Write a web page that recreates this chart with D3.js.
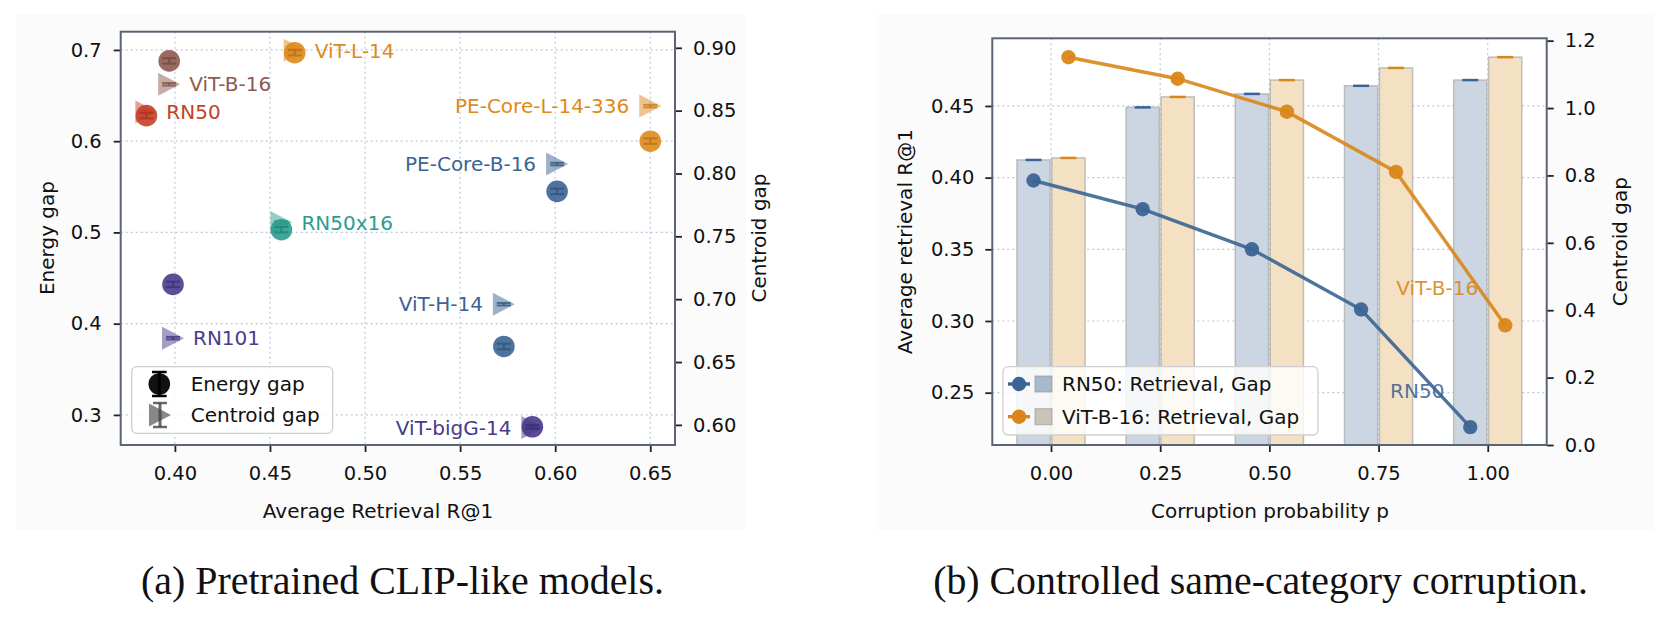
<!DOCTYPE html>
<html><head><meta charset="utf-8">
<script src="https://cdn.jsdelivr.net/npm/d3@7"></script>
<style>
html,body{margin:0;padding:0;background:#fff;}
svg{display:block;font-family:"DejaVu Sans",sans-serif;}
</style></head>
<body>
<svg id="fig" width="1663" height="620"></svg>
<script>
// ---------- data: (a) pretrained CLIP-like models ----------
const models      = ["RN50","RN101","RN50x16","ViT-B-16","ViT-L-14","ViT-H-14","ViT-bigG-14","PE-Core-B-16","PE-Core-L-14-336"];
const retrieval   = [0.385, 0.399, 0.456, 0.397, 0.463, 0.573, 0.588, 0.601, 0.650];
const energyGap   = [0.628, 0.443, 0.503, 0.688, 0.697, 0.375, 0.287, 0.545, 0.600];
const energyErr   = [0.003, 0.003, 0.003, 0.003, 0.003, 0.003, 0.002, 0.003, 0.003];
const centroidGap = [0.849, 0.669, 0.761, 0.871, 0.898, 0.696, 0.598, 0.8075, 0.8536];
const centroidErr = [0.001, 0.001, 0.001, 0.001, 0.001, 0.001, 0.001, 0.001, 0.001];
const xTicksA  = [0.40, 0.45, 0.50, 0.55, 0.60, 0.65];
const yTicksA  = [0.3, 0.4, 0.5, 0.6, 0.7];
const y2TicksA = [0.60, 0.65, 0.70, 0.75, 0.80, 0.85, 0.90];

// ---------- data: (b) controlled same-category corruption ----------
const corruptionP  = [0.00, 0.25, 0.50, 0.75, 1.00];
const rn50Retrieval = [0.398, 0.378, 0.350, 0.308, 0.226];
const vitRetrieval  = [0.484, 0.469, 0.446, 0.404, 0.297];
const rn50Gap       = [0.846, 1.002, 1.042, 1.066, 1.083];
const vitGap        = [0.852, 1.033, 1.083, 1.119, 1.151];
const xTicksB  = [0.00, 0.25, 0.50, 0.75, 1.00];
const yTicksB  = [0.25, 0.30, 0.35, 0.40, 0.45];
const y2TicksB = [0.0, 0.2, 0.4, 0.6, 0.8, 1.0, 1.2];

// ---------- styles ----------
const modelColors = {"RN50":"#c8402a","RN101":"#4a3c8c","RN50x16":"#2a9d8f","ViT-B-16":"#8d5a4f",
  "ViT-L-14":"#dd8a1c","ViT-H-14":"#3b6494","ViT-bigG-14":"#483a8a","PE-Core-B-16":"#3b6494","PE-Core-L-14-336":"#dd8a1c"};
const labelLeft = new Set(["ViT-H-14","ViT-bigG-14","PE-Core-B-16","PE-Core-L-14-336"]);
const BLUE = "#3b6494", ORANGE = "#d9861a";
const FS = 19.5;
const svg = d3.select("#fig");

// faint figure panels
svg.append("rect").attr("x",16).attr("y",14).attr("width",730).attr("height",516).attr("fill","#fbfbfb");
svg.append("rect").attr("x",876).attr("y",14).attr("width",778).attr("height",516).attr("fill","#fbfbfb");

function styleAxis(g){
  g.select(".domain").remove();
  g.selectAll(".tick line").attr("stroke","#222").attr("stroke-width",1.8);
  g.selectAll(".tick text").attr("fill","#111").style("font-size",FS+"px").style("font-family","DejaVu Sans");
}
function darker(c,k){ return d3.color(c).darker(k).formatHex(); }

// ================= Panel (a) =================
{
  const L=120.7,R=675,T=31.7,B=445;
  const x  = d3.scaleLinear().domain([0.3715,0.663]).range([L,R]);
  const y  = d3.scaleLinear().domain([0.267,0.72]).range([B,T]);
  const y2 = d3.scaleLinear().domain([0.584,0.9128]).range([B,T]);
  const g = svg.append("g");
  g.append("rect").attr("x",L).attr("y",T).attr("width",R-L).attr("height",B-T).attr("fill","#fff");
  // grid
  g.append("g").selectAll("line").data(xTicksA).join("line")
    .attr("x1",d=>x(d)).attr("x2",d=>x(d)).attr("y1",T).attr("y2",B)
    .attr("stroke","#b9c9da").attr("stroke-width",1.2).attr("stroke-dasharray","2,3");
  g.append("g").selectAll("line").data(yTicksA).join("line")
    .attr("y1",d=>y(d)).attr("y2",d=>y(d)).attr("x1",L).attr("x2",R)
    .attr("stroke","#b9c9da").attr("stroke-width",1.2).attr("stroke-dasharray","2,3");

  const idx = d3.range(models.length);
  // triangles (centroid gap, right axis)
  const tri = d3.symbol().type({draw(ctx,size){ctx.moveTo(11,0);ctx.lineTo(-11,-11.5);ctx.lineTo(-11,11.5);ctx.closePath();}}).size(1);
  g.append("g").selectAll("path").data(idx).join("path")
    .attr("d",tri).attr("transform",i=>`translate(${x(retrieval[i])},${y2(centroidGap[i])})`)
    .attr("fill",i=>modelColors[models[i]]).attr("fill-opacity",0.5);
  // triangle error bars
  idx.forEach(i=>{
    const cx=x(retrieval[i]), c=darker(modelColors[models[i]],0.3);
    const y0=y2(centroidGap[i]-centroidErr[i]), y1=y2(centroidGap[i]+centroidErr[i]);
    g.append("line").attr("x1",cx).attr("x2",cx).attr("y1",y0).attr("y2",y1).attr("stroke",c).attr("stroke-width",2).attr("opacity",0.8);
    [y0,y1].forEach(yy=>g.append("line").attr("x1",cx-7).attr("x2",cx+7).attr("y1",yy).attr("y2",yy).attr("stroke",c).attr("stroke-width",2).attr("opacity",0.8));
  });
  // circles (energy gap)
  g.append("g").selectAll("circle").data(idx).join("circle")
    .attr("cx",i=>x(retrieval[i])).attr("cy",i=>y(energyGap[i])).attr("r",10.8)
    .attr("fill",i=>modelColors[models[i]]).attr("fill-opacity",0.9);
  idx.forEach(i=>{
    const cx=x(retrieval[i]), c=darker(modelColors[models[i]],0.5);
    const y0=y(energyGap[i]-energyErr[i]), y1=y(energyGap[i]+energyErr[i]);
    g.append("line").attr("x1",cx).attr("x2",cx).attr("y1",y0).attr("y2",y1).attr("stroke",c).attr("stroke-width",2).attr("opacity",0.8);
    [y0,y1].forEach(yy=>g.append("line").attr("x1",cx-7).attr("x2",cx+7).attr("y1",yy).attr("y2",yy).attr("stroke",c).attr("stroke-width",2).attr("opacity",0.8));
  });
  // labels
  g.append("g").selectAll("text").data(idx).join("text")
    .attr("x",i=>x(retrieval[i]) + (labelLeft.has(models[i])?-21:20))
    .attr("y",i=>y2(centroidGap[i])).attr("dy","0.36em")
    .attr("text-anchor",i=>labelLeft.has(models[i])?"end":"start")
    .attr("fill",i=>modelColors[models[i]]).style("font-size","20px").text(i=>models[i]);

  // axes
  styleAxis(svg.append("g").attr("transform",`translate(0,${B})`)
    .call(d3.axisBottom(x).tickValues(xTicksA).tickFormat(d3.format(".2f")).tickSize(7).tickPadding(14)));
  styleAxis(svg.append("g").attr("transform",`translate(${L},0)`)
    .call(d3.axisLeft(y).tickValues(yTicksA).tickFormat(d3.format(".1f")).tickSize(7).tickPadding(12)));
  styleAxis(svg.append("g").attr("transform",`translate(${R},0)`)
    .call(d3.axisRight(y2).tickValues(y2TicksA).tickFormat(d3.format(".2f")).tickSize(7).tickPadding(11)));
  svg.append("rect").attr("x",L).attr("y",T).attr("width",R-L).attr("height",B-T)
    .attr("fill","none").attr("stroke","#5b6474").attr("stroke-width",2);

  // legend
  const lg = svg.append("g");
  lg.append("rect").attr("x",131.7).attr("y",366.7).attr("width",201).attr("height",66.6).attr("rx",5)
    .attr("fill","#fff").attr("fill-opacity",0.85).attr("stroke","#d0d0d0").attr("stroke-width",1.3);
  lg.append("circle").attr("cx",159.3).attr("cy",384).attr("r",10.8).attr("fill","#111");
  lg.append("line").attr("x1",159.3).attr("x2",159.3).attr("y1",372).attr("y2",396).attr("stroke","#000").attr("stroke-width",3);
  [372,396].forEach(yy=>lg.append("line").attr("x1",152).attr("x2",166.6).attr("y1",yy).attr("y2",yy).attr("stroke","#000").attr("stroke-width",2.5));
  lg.append("path").attr("d",tri).attr("transform","translate(160,415)").attr("fill","#555").attr("fill-opacity",0.7);
  lg.append("line").attr("x1",160).attr("x2",160).attr("y1",403).attr("y2",427).attr("stroke","#444").attr("stroke-width",3).attr("opacity",0.8);
  [403,427].forEach(yy=>lg.append("line").attr("x1",153).attr("x2",167).attr("y1",yy).attr("y2",yy).attr("stroke","#444").attr("stroke-width",2.5).attr("opacity",0.8));
  lg.append("text").attr("x",190.7).attr("y",384).attr("dy","0.36em").style("font-size","20px").attr("fill","#111").text("Energy gap");
  lg.append("text").attr("x",190.7).attr("y",415).attr("dy","0.36em").style("font-size","20px").attr("fill","#111").text("Centroid gap");

  // axis titles
  svg.append("text").attr("transform","translate(47,238) rotate(-90)").attr("text-anchor","middle").attr("dy","0.36em")
    .style("font-size","20px").attr("fill","#111").text("Energy gap");
  svg.append("text").attr("transform","translate(759,238) rotate(-90)").attr("text-anchor","middle").attr("dy","0.36em")
    .style("font-size","20px").attr("fill","#111").text("Centroid gap");
  svg.append("text").attr("x",378).attr("y",511).attr("text-anchor","middle").attr("dy","0.36em")
    .style("font-size","20px").attr("fill","#111").text("Average Retrieval R@1");
}

// ================= Panel (b) =================
{
  const L=992.3,R=1546.7,T=38.3,B=445;
  const x  = d3.scaleLinear().domain([-0.1344,1.135]).range([L,R]);
  const y  = d3.scaleLinear().domain([0.2135,0.4972]).range([B,T]);
  const y2 = d3.scaleLinear().domain([0,1.207]).range([B,T]);
  const off = 0.04, bw = 0.076;
  const g = svg.append("g");
  g.append("rect").attr("x",L).attr("y",T).attr("width",R-L).attr("height",B-T).attr("fill","#fff");
  g.append("g").selectAll("line").data(xTicksB).join("line")
    .attr("x1",d=>x(d)).attr("x2",d=>x(d)).attr("y1",T).attr("y2",B)
    .attr("stroke","#b9c9da").attr("stroke-width",1.2).attr("stroke-dasharray","2,3");
  g.append("g").selectAll("line").data(yTicksB).join("line")
    .attr("y1",d=>y(d)).attr("y2",d=>y(d)).attr("x1",L).attr("x2",R)
    .attr("stroke","#b9c9da").attr("stroke-width",1.2).attr("stroke-dasharray","2,3");

  const series = [
    {name:"RN50", color:BLUE, ret:rn50Retrieval, gap:rn50Gap, off:-off, fill:"#ccd6e2", patch:"#a9b9cc"},
    {name:"ViT-B-16", color:ORANGE, ret:vitRetrieval, gap:vitGap, off:off, fill:"#f4e0c2", patch:"#cbc3b6"}
  ];
  // bars (gap, right axis)
  series.forEach(s=>{
    g.append("g").selectAll("rect").data(corruptionP).join("rect")
      .attr("x",(p)=>x(p+s.off-bw/2)).attr("width",(p)=>x(p+s.off+bw/2)-x(p+s.off-bw/2))
      .attr("y",(p,i)=>y2(s.gap[i])).attr("height",(p,i)=>B-y2(s.gap[i]))
      .attr("fill",s.fill).attr("stroke","#b0b0b0").attr("stroke-width",1.5).attr("stroke-opacity",0.8);
    g.append("g").selectAll("line").data(corruptionP).join("line")
      .attr("x1",(p)=>x(p+s.off)-8).attr("x2",(p)=>x(p+s.off)+8)
      .attr("y1",(p,i)=>y2(s.gap[i])).attr("y2",(p,i)=>y2(s.gap[i]))
      .attr("stroke",s.color).attr("stroke-width",2.5);
  });
  // lines (retrieval, left axis)
  series.forEach(s=>{
    const line = d3.line().x((p)=>x(p+s.off)).y((p,i)=>y(s.ret[i]));
    g.append("path").datum(corruptionP).attr("d",line).attr("fill","none")
      .attr("stroke",s.color).attr("stroke-width",3.4).attr("stroke-opacity",0.9);
    g.append("g").selectAll("circle").data(corruptionP).join("circle")
      .attr("cx",(p)=>x(p+s.off)).attr("cy",(p,i)=>y(s.ret[i])).attr("r",7.2)
      .attr("fill",s.color).attr("fill-opacity",0.95);
  });
  // end annotations
  const last = corruptionP.length-1;
  g.append("text").attr("x",x(corruptionP[last]+off)-68).attr("y",y(vitRetrieval[last])-37).attr("dy","0.36em")
    .attr("text-anchor","middle").attr("fill",ORANGE).attr("fill-opacity",0.9).style("font-size","20px").text("ViT-B-16");
  g.append("text").attr("x",x(corruptionP[last]-off)-53).attr("y",y(rn50Retrieval[last])-36).attr("dy","0.36em")
    .attr("text-anchor","middle").attr("fill",BLUE).attr("fill-opacity",0.9).style("font-size","20px").text("RN50");

  styleAxis(svg.append("g").attr("transform",`translate(0,${B})`)
    .call(d3.axisBottom(x).tickValues(xTicksB).tickFormat(d3.format(".2f")).tickSize(7).tickPadding(14)));
  styleAxis(svg.append("g").attr("transform",`translate(${L},0)`)
    .call(d3.axisLeft(y).tickValues(yTicksB).tickFormat(d3.format(".2f")).tickSize(7).tickPadding(11)));
  styleAxis(svg.append("g").attr("transform",`translate(${R},0)`)
    .call(d3.axisRight(y2).tickValues(y2TicksB).tickFormat(d3.format(".1f")).tickSize(7).tickPadding(11)));
  svg.append("rect").attr("x",L).attr("y",T).attr("width",R-L).attr("height",B-T)
    .attr("fill","none").attr("stroke","#5b6474").attr("stroke-width",2);

  // legend
  const lg = svg.append("g");
  lg.append("rect").attr("x",1003).attr("y",366.7).attr("width",315).attr("height",68.3).attr("rx",5)
    .attr("fill","#fff").attr("fill-opacity",0.8).attr("stroke","#d0d0d0").attr("stroke-width",1.3);
  series.forEach((s,k)=>{
    const yy = 384 + k*32.7;
    lg.append("line").attr("x1",1008).attr("x2",1030).attr("y1",yy).attr("y2",yy).attr("stroke",s.color).attr("stroke-width",3.4);
    lg.append("circle").attr("cx",1019).attr("cy",yy).attr("r",7.2).attr("fill",s.color);
    lg.append("rect").attr("x",1035).attr("y",yy-8).attr("width",17).attr("height",16)
      .attr("fill",s.patch).attr("stroke","#999").attr("stroke-width",1).attr("stroke-opacity",0.7);
    lg.append("text").attr("x",1062).attr("y",yy).attr("dy","0.36em").style("font-size","20px").attr("fill","#111")
      .text(s.name+": Retrieval, Gap");
  });

  svg.append("text").attr("transform",`translate(905,${(T+B)/2}) rotate(-90)`).attr("text-anchor","middle").attr("dy","0.36em")
    .style("font-size","20px").attr("fill","#111").text("Average retrieval R@1");
  svg.append("text").attr("transform",`translate(1620,${(T+B)/2}) rotate(-90)`).attr("text-anchor","middle").attr("dy","0.36em")
    .style("font-size","20px").attr("fill","#111").text("Centroid gap");
  svg.append("text").attr("x",1270).attr("y",511).attr("text-anchor","middle").attr("dy","0.36em")
    .style("font-size","20px").attr("fill","#111").text("Corruption probability p");
}

// captions
function caption(txt, cx, cy, targetW){
  const t = svg.append("text").attr("x",cx).attr("y",cy).attr("text-anchor","middle").attr("dy","0.35em")
    .style("font-family","'Liberation Serif',serif").style("font-size","30px").attr("fill","#111").text(txt);
  const w = t.node().getComputedTextLength();
  t.style("font-size",(30*targetW/w).toFixed(2)+"px");
}
caption("(a) Pretrained CLIP-like models.", 402.5, 580, 523);
caption("(b) Controlled same-category corruption.", 1260.5, 580, 655);
</script>
</body></html>
